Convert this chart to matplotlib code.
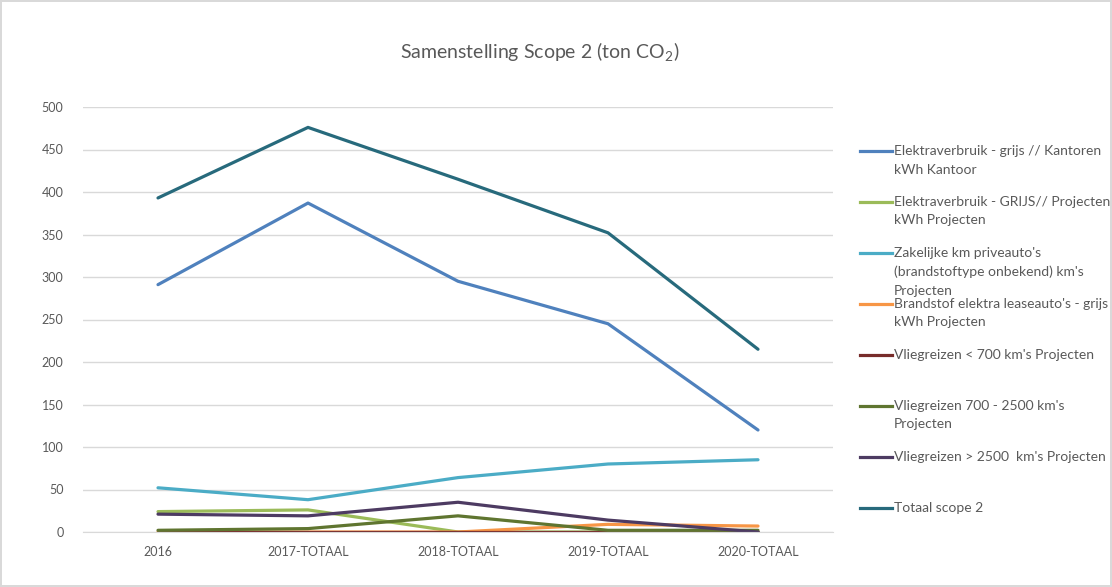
import matplotlib.pyplot as plt
from matplotlib.lines import Line2D

plt.rcParams['font.family'] = ['Lato', 'DejaVu Sans']
plt.rcParams['mathtext.fontset'] = 'custom'
plt.rcParams['mathtext.rm'] = 'Lato'

years = ['2016', '2017-TOTAAL', '2018-TOTAAL', '2019-TOTAAL', '2020-TOTAAL']

elektra_kantoor = [291, 387, 295, 245, 120]
elektra_projecten = [24, 26, 0, 0, 0]
zakelijke_km = [52, 38, 64, 80, 85]
lease_elektra = [0, 0, 0, 9, 7]
vlieg_kort = [0, 0, 0, 0, 0]
vlieg_midden = [2, 4, 19, 2, 2]
vlieg_lang = [21, 19, 35, 14, 0]
totaal = [393, 476, 415, 352, 215]

labels = [
    "Elektraverbruik - grijs // Kantoren\nkWh Kantoor",
    "Elektraverbruik - GRIJS// Projecten\nkWh Projecten",
    "Zakelijke km priveauto's\n(brandstoftype onbekend) km's\nProjecten",
    "Brandstof elektra leaseauto's - grijs\nkWh Projecten",
    "Vliegreizen < 700 km's Projecten",
    "Vliegreizen 700 - 2500 km's\nProjecten",
    "Vliegreizen > 2500  km's Projecten",
    "Totaal scope 2",
]
series = [elektra_kantoor, elektra_projecten, zakelijke_km, lease_elektra,
          vlieg_kort, vlieg_midden, vlieg_lang, totaal]
colors = ['#4F81BD', '#9BBB59', '#4BACC6', '#F79646',
          '#772C2A', '#5F7530', '#4D3B62', '#276A7C']

fig = plt.figure(figsize=(11.12, 5.87), dpi=100)
fig.patch.set_edgecolor('#D9D9D9')
fig.patch.set_linewidth(1.5)
ax = fig.add_axes([83 / 1112, 1 - 532 / 587, 750 / 1112, 425 / 587])

x = list(range(len(years)))
for vals, c in zip(series, colors):
    ax.plot(x, vals, color=c, linewidth=2.3, solid_capstyle='round')

ax.set_xlim(-0.5, len(years) - 0.5)
ax.set_ylim(0, 500)
ax.set_yticks(range(0, 501, 50))
ax.set_xticks(x)
ax.set_xticklabels(years)
ax.grid(axis='y', color='#D9D9D9', linewidth=1)
ax.set_axisbelow(True)
for s in ['top', 'right', 'left']:
    ax.spines[s].set_visible(False)
ax.spines['bottom'].set_color('#D9D9D9')
ax.tick_params(axis='both', length=0, labelsize=9, colors='#595959')
ax.tick_params(axis='y', pad=14)
ax.tick_params(axis='x', pad=10)

fig.text(540 / 1112, 1 - 52 / 587, r'Samenstelling Scope 2 (ton CO$_\mathregular{2}$)',
         ha='center', va='center', fontsize=14, color='#595959')

# legend drawn by hand to mimic Excel spacing
for i, (lab, c) in enumerate(zip(labels, colors)):
    yy = 1 - (151 + 51 * i) / 587
    fig.add_artist(Line2D([860 / 1112, 892 / 1112], [yy, yy], color=c, linewidth=2.3,
                          transform=fig.transFigure))
    fig.text(894 / 1112, yy + 6 / 587, lab, ha='left', va='top', fontsize=10,
             color='#595959', linespacing=1.65)

plt.savefig('out.png', dpi=100)
